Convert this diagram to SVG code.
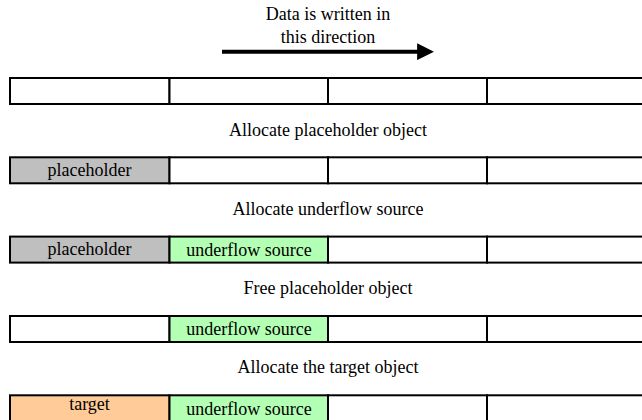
<svg xmlns="http://www.w3.org/2000/svg" width="642" height="420" viewBox="0 0 642 420">
  <style>
    text { font-family: "Liberation Serif", "Times New Roman", serif; font-size: 18px; fill: #000; }
    .label { text-anchor: middle; }
    .cell { stroke: #000; stroke-width: 2; fill: #fff; }
    .grey { fill: #bfbfbf; }
    .green { fill: #b3ffb3; }
    .orange { fill: #ffcc99; }
    .ctext { text-anchor: middle; }
  </style>
  <defs>
    <marker id="head" viewBox="0 0 10 10" refX="2" refY="5" markerWidth="4.2" markerHeight="4.2" orient="auto" markerUnits="strokeWidth">
      <path d="M0,0 L10,5 L0,10 Z" fill="#000"/>
    </marker>
  </defs>

  <!-- write direction -->
  <g id="direction">
    <text class="label" x="328" y="20">Data is written in</text>
    <text class="label" x="328" y="43">this direction</text>
  </g>
  <g id="connectors">
    <line x1="222" y1="51.7" x2="420.5" y2="51.7" stroke="#000" stroke-width="4" marker-end="url(#head)"/>
  </g>

  <!-- initial empty slab -->
  <g id="row-empty">
    <rect class="cell" x="10" y="78" width="159.5" height="26"/>
    <rect class="cell" x="169.5" y="78" width="158.5" height="26"/>
    <rect class="cell" x="328" y="78" width="159" height="26"/>
    <rect class="cell" x="487" y="78" width="160" height="26"/>
  </g>

  <g id="step-alloc-placeholder">
    <text class="label" x="328" y="136">Allocate placeholder object</text>
  </g>
  <g id="row-placeholder">
    <rect class="cell grey" x="10" y="157.3" width="159.5" height="26"/>
    <text class="ctext" x="89.5" y="176">placeholder</text>
    <rect class="cell" x="169.5" y="157.3" width="158.5" height="26"/>
    <rect class="cell" x="328" y="157.3" width="159" height="26"/>
    <rect class="cell" x="487" y="157.3" width="160" height="26"/>
  </g>

  <g id="step-alloc-underflow">
    <text class="label" x="328" y="215">Allocate underflow source</text>
  </g>
  <g id="row-underflow">
    <rect class="cell grey" x="10" y="236.6" width="159.5" height="26"/>
    <text class="ctext" x="89.5" y="254.5">placeholder</text>
    <rect class="cell green" x="169.5" y="236.6" width="158.5" height="26"/>
    <text class="ctext" x="249" y="255.5">underflow source</text>
    <rect class="cell" x="328" y="236.6" width="159" height="26"/>
    <rect class="cell" x="487" y="236.6" width="160" height="26"/>
  </g>

  <g id="step-free-placeholder">
    <text class="label" x="328" y="293.5">Free placeholder object</text>
  </g>
  <g id="row-freed">
    <rect class="cell" x="10" y="316" width="159.5" height="26"/>
    <rect class="cell green" x="169.5" y="316" width="158.5" height="26"/>
    <text class="ctext" x="249" y="335">underflow source</text>
    <rect class="cell" x="328" y="316" width="159" height="26"/>
    <rect class="cell" x="487" y="316" width="160" height="26"/>
  </g>

  <g id="step-alloc-target">
    <text class="label" x="328" y="372.5">Allocate the target object</text>
  </g>
  <g id="row-target">
    <rect class="cell orange" x="10" y="395.3" width="159.5" height="26"/>
    <text class="ctext" x="89.5" y="410">target</text>
    <rect class="cell green" x="169.5" y="395.3" width="158.5" height="26"/>
    <text class="ctext" x="249" y="415">underflow source</text>
    <rect class="cell" x="328" y="395.3" width="159" height="26"/>
    <rect class="cell" x="487" y="395.3" width="160" height="26"/>
  </g>
</svg>
